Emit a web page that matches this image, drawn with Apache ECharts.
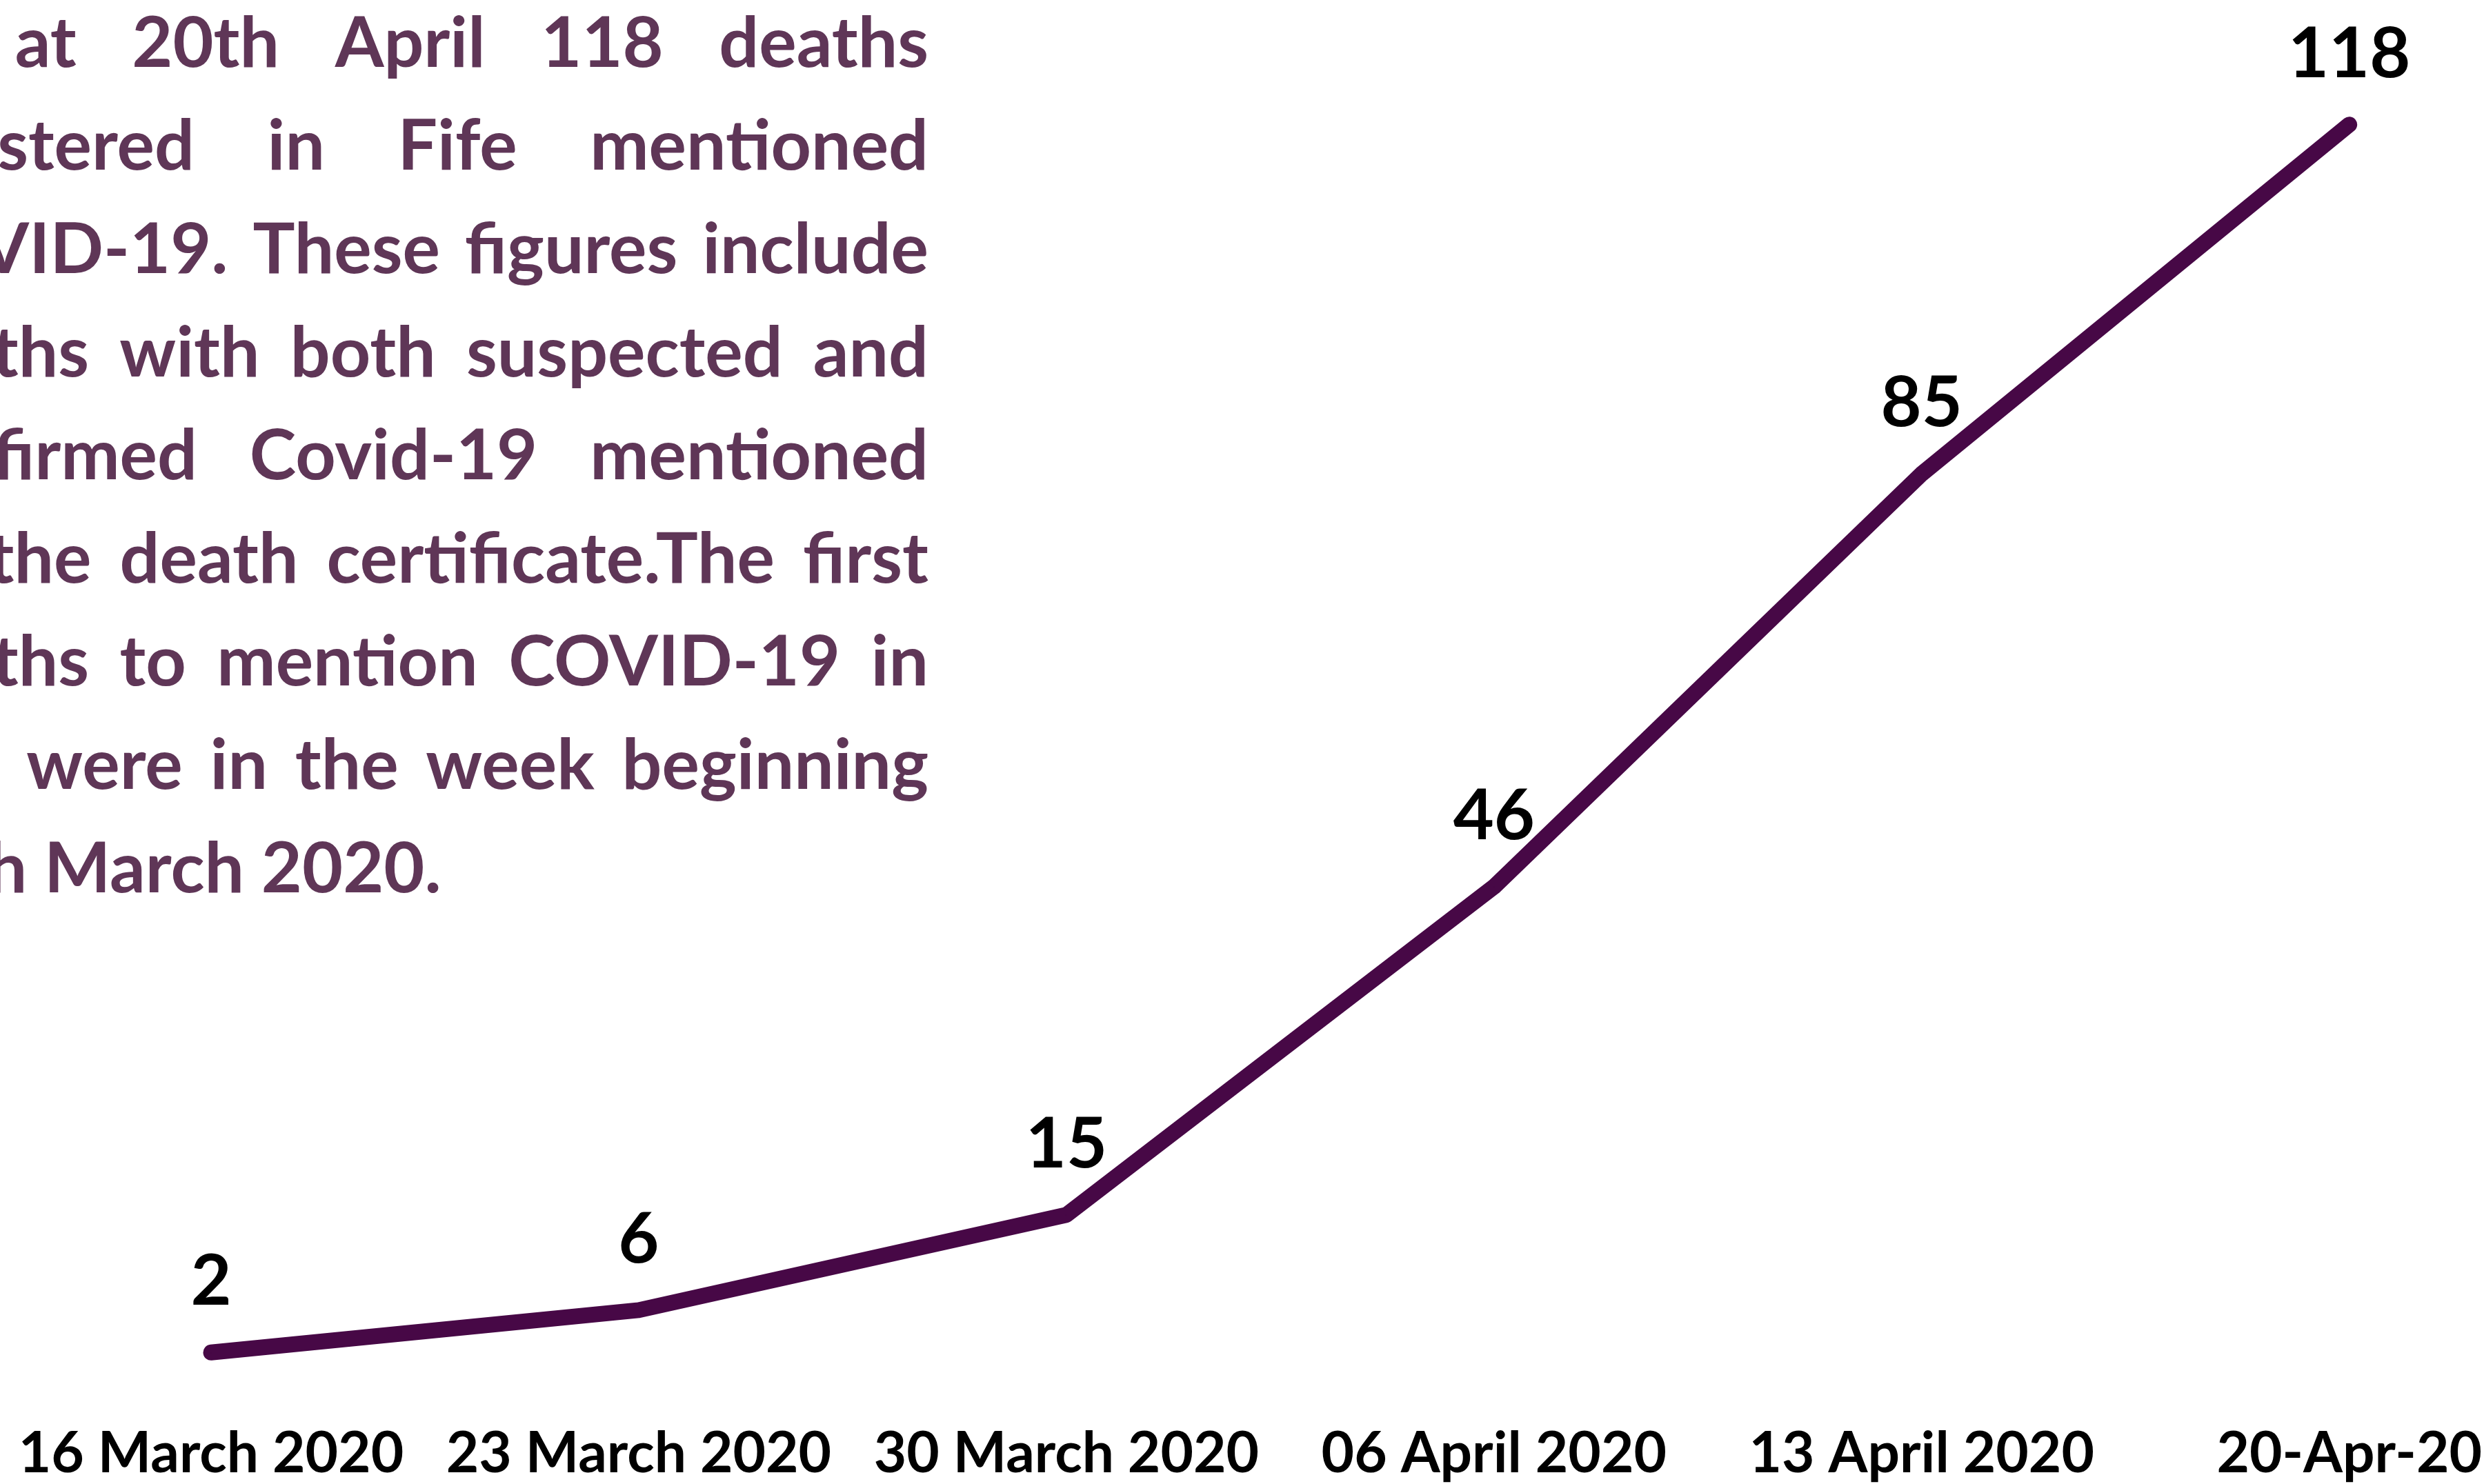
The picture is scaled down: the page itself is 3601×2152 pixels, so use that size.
<!DOCTYPE html>
<html>
<head>
<meta charset="utf-8">
<script src="https://cdn.jsdelivr.net/npm/echarts@6/dist/echarts.min.js"></script>
<style>
html,body{margin:0;padding:0;background:#fff;}
#chart{width:3601px;height:2152px;}
</style>
</head>
<body>
<div id="chart"></div>
<script>
// ---- data ----
const categories = ['16 March 2020', '23 March 2020', '30 March 2020', '06 April 2020', '13 April 2020', '20-Apr-20'];
const deaths = [2, 6, 15, 46, 85, 118];
const noteLines = [
  'As at 20th April 118 deaths',
  'registered in Fife mentioned',
  'COVID-19. These figures include',
  'deaths with both suspected and',
  'confirmed Covid-19 mentioned',
  'on the death certificate.The first',
  'deaths to mention COVID-19 in',
  'Fife were in the week beginning',
  '16th March 2020.'
];

// ---- note text layout (justified paragraph, cut off at left edge) ----
const noteFont = 'bold 102px Lato';
const noteColor = '#5f3657';
const ctx = document.createElement('canvas').getContext('2d');
ctx.font = noteFont;
const W = s => ctx.measureText(s).width;
const rightEdge = 1346;
const leftEdge = 64 - W('16th ');
const firstMiddle = 64;
const lineStep = 149.6;
const graphics = [];
noteLines.forEach((line, i) => {
  const y = firstMiddle + i * lineStep;
  const words = line.split(' ');
  if (i === noteLines.length - 1) {
    graphics.push({type: 'text', x: leftEdge, y: y, style: {text: line, font: noteFont, fill: noteColor, align: 'left', verticalAlign: 'middle'}});
    return;
  }
  const total = words.reduce((a, w) => a + W(w), 0);
  const gap = (rightEdge - leftEdge - total) / (words.length - 1);
  let x = leftEdge;
  words.forEach(w => {
    graphics.push({type: 'text', x: x, y: y, style: {text: w, font: noteFont, fill: noteColor, align: 'left', verticalAlign: 'middle'}});
    x += W(w) + gap;
  });
});

const chart = echarts.init(document.getElementById('chart'));
chart.setOption({
  backgroundColor: '#ffffff',
  animation: false,
  grid: {left: 306, right: 187, top: 150, bottom: 160, containLabel: false},
  xAxis: {
    type: 'category',
    data: categories,
    boundaryGap: false,
    axisLine: {show: false},
    axisTick: {show: false},
    axisLabel: {interval: 0, margin: 76, color: '#000', fontFamily: 'Lato', fontWeight: 'bold', fontSize: 82, hideOverlap: false}
  },
  yAxis: {type: 'value', min: 0, max: 120, show: false, splitLine: {show: false}},
  series: [{
    type: 'line',
    data: deaths,
    symbol: 'circle',
    symbolSize: 2,
    showSymbol: true,
    itemStyle: {color: '#470846'},
    lineStyle: {color: '#470846', width: 23, cap: 'round', join: 'round'},
    label: {show: true, position: 'top', distance: 50, color: '#000', fontFamily: 'Lato', fontWeight: 'bold', fontSize: 102}
  }],
  graphic: graphics
});
</script>
</body>
</html>
